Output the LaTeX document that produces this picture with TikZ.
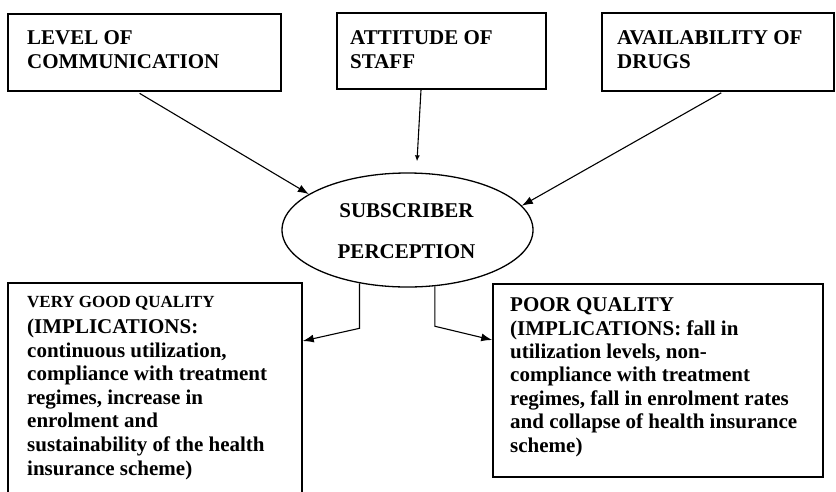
\documentclass[tikz,border=0pt]{standalone}
\usepackage{fontspec}
\setmainfont{Liberation Serif}
\usetikzlibrary{shapes.geometric,arrows.meta,calc}
\begin{document}
\begin{tikzpicture}[x=1pt,y=-1pt,
  box/.style={draw, line width=1.6pt, inner sep=0pt},
  lbl/.style={inner sep=0pt, align=left, anchor=base west,
              font=\bfseries\fontsize{21}{23.6}\selectfont},
  ctr/.style={inner sep=0pt, align=center, anchor=base,
              font=\bfseries\fontsize{21}{23.6}\selectfont},
  arr/.style={line width=1.1pt, -{Latex[length=11pt,width=8pt]}},
  arrsmall/.style={line width=1.1pt, -{Latex[length=6pt,width=5pt]}},
]
\clip (0,0) rectangle (836,491);
\fill[white] (0,0) rectangle (836,491);

% factor boxes (text nodes are placed by the baseline of their last line)
\node[box, minimum width=273pt, minimum height=77pt] (comm) at (144.5,52.5) {};
\node[box, minimum width=209pt, minimum height=76pt] (staff) at (441.5,51) {};
\node[box, minimum width=232pt, minimum height=78pt] (drugs) at (718,52) {};
\node[lbl] (commtxt) at (27,68) {LEVEL OF\\COMMUNICATION};
\node[lbl] (stafftxt) at (350,68) {ATTITUDE OF\\STAFF};
\node[lbl] (drugstxt) at (617,68) {AVAILABILITY OF\\DRUGS};

% central perception
\node[draw, ellipse, line width=1.3pt, minimum width=251pt, minimum height=114pt,
      inner sep=0pt] (perc) at (407.5,230) {};
\node[ctr] (perctxt) at (406.5,258) {SUBSCRIBER\\[17pt]PERCEPTION};

% outcome boxes
\node[box, minimum width=294pt, minimum height=237pt] (good) at (155,401.5) {};
\node[box, minimum width=330pt, minimum height=193pt] (poor) at (658,380.5) {};
\node[lbl] (goodtxt) at (27,475) {{\fontsize{17}{20}\selectfont VERY GOOD QUALITY}\\[2pt]
  (IMPLICATIONS:\\continuous utilization,\\compliance with treatment\\
  regimes, increase in\\enrolment and\\sustainability of the health\\insurance scheme)};
\node[lbl, font=\bfseries\fontsize{21}{23.4}\selectfont] (poortxt) at (510,452) {POOR QUALITY\\(IMPLICATIONS: fall in\\
  utilization levels, non-\\compliance with treatment\\regimes, fall in enrolment rates\\
  and collapse of health insurance\\scheme)};

% influences
\draw[arr, shorten <=3pt] ([xshift=-7.5pt]comm.south) -- (perc.160);
\draw[arrsmall] ([xshift=-20.5pt]staff.south) -- ([xshift=9.5pt,yshift=11pt]perc.north);
\draw[arr, shorten <=2pt] ([xshift=5pt]drugs.south) -- (perc.12);

% outcomes
\draw[arr] (perc.228) -- ++(0,45) -- ([yshift=60.5pt]good.east);
\draw[arr] (perc.296) -- ++(0,40) -- ([yshift=40.5pt]poor.west);
\end{tikzpicture}
\end{document}
